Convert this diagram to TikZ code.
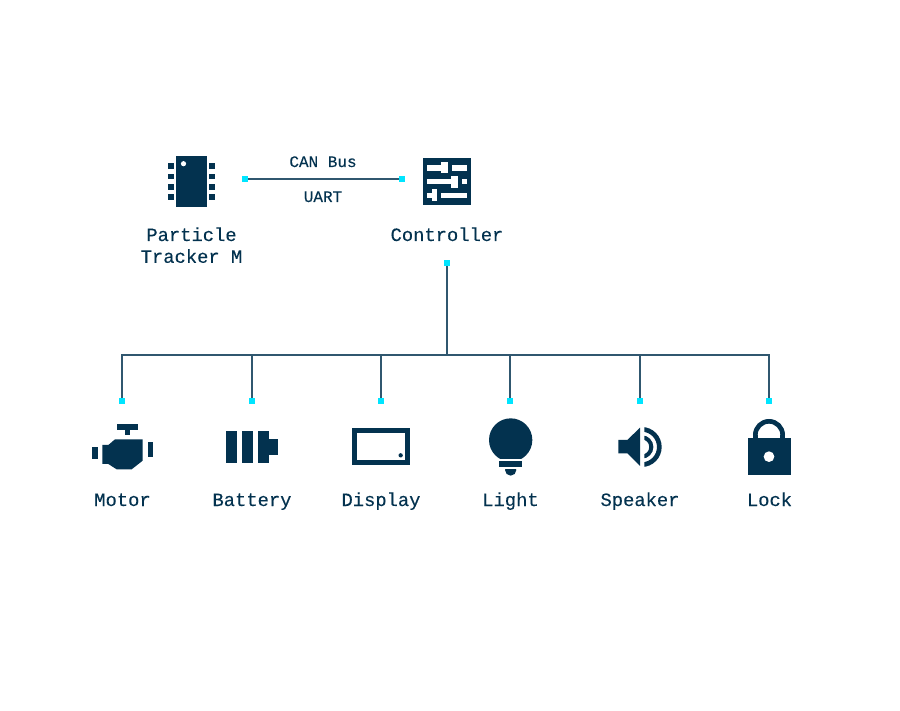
\documentclass[tikz,border=0pt]{standalone}
\usepackage{fontspec}
\setmainfont{Liberation Mono}
\newfontfamily\lblfont[FakeBold=0.15]{Liberation Mono}
\definecolor{navy}{HTML}{03324F}
\definecolor{port}{HTML}{00E5FF}
\tikzset{
  portbox/.style={fill=port,draw=none,minimum size=6pt,inner sep=0pt,outer sep=0pt,rectangle},
  wire/.style={draw=navy!82!white,line width=1.5pt},
  biglabel/.style={text=navy,font=\lblfont\fontsize{18.8pt}{22pt}\selectfont,inner sep=0pt,anchor=base},
  smalllabel/.style={text=navy,font=\lblfont\fontsize{16pt}{19pt}\selectfont,inner sep=0pt,anchor=base},
  zoomed/.style={shift={(#1,390)},scale=1/3}
}
\begin{document}
\begin{tikzpicture}[x=1pt,y=-1pt]
\useasboundingbox[fill=white] (0,0) rectangle (900,711);

% ports
\node[portbox] (canL) at (245,179) {};
\node[portbox] (canR) at (401.5,179) {};
\node[portbox] (ctrl) at (447,263) {};
\node[portbox] (pMotor) at (122,401) {};
\node[portbox] (pBattery) at (252,401) {};
\node[portbox] (pDisplay) at (381,401) {};
\node[portbox] (pLight) at (510,401) {};
\node[portbox] (pSpeaker) at (640,401) {};
\node[portbox] (pLock) at (769,401) {};
\coordinate (hub) at (447,355);

% connectors
\draw[wire] (canL.center) -- (canR.center);
\draw[wire] (ctrl.center) -- (hub);
\foreach \p in {pMotor,pBattery,pDisplay,pLight,pSpeaker,pLock}
  \draw[wire] (\p.center) |- (hub);
\foreach \p in {canL,canR,ctrl,pMotor,pBattery,pDisplay,pLight,pSpeaker,pLock}
  \node[portbox] at (\p.center) {};

% labels
\node[smalllabel] (lCan) at (323,167) {CAN Bus};
\node[smalllabel] (lUart) at (323,202) {UART};
\node[biglabel] (lP1) at (191.5,241) {Particle};
\node[biglabel] (lP2) at (191.5,262.8) {Tracker M};
\node[biglabel] (lCtl) at (447,241) {Controller};
\node[biglabel] (lMotor) at (122.5,506) {Motor};
\node[biglabel] (lBattery) at (252,506) {Battery};
\node[biglabel] (lDisplay) at (381,506) {Display};
\node[biglabel] (lLight) at (510.5,506) {Light};
\node[biglabel] (lSpeaker) at (640,506) {Speaker};
\node[biglabel] (lLock) at (769.5,506) {Lock};

% chip
\fill[navy] (175.7,155.7) rectangle (206.7,207.3);
\foreach \yy in {166.2,176.6,187,197.2}{
  \fill[navy] (168,\yy-2.7) rectangle (173.6,\yy+2.7);
  \fill[navy] (209.2,\yy-2.7) rectangle (214.8,\yy+2.7);
}
\fill[white] (183.5,163.7) circle[radius=2.6];

% controller
\fill[navy] (423.3,158) rectangle (471,205.3);
\begin{scope}[white]
\fill (427.3,165.3) rectangle (448.3,170.7);
\fill (440.7,161.7) rectangle (448.3,173.3);
\fill (452,165.3) rectangle (467.3,170.7);
\fill (427.3,179.3) rectangle (458.3,184.3);
\fill (450.7,175.7) rectangle (458.3,187.7);
\fill (461.7,179.3) rectangle (467.3,184.3);
\fill (427.3,193.3) rectangle (436.7,198.3);
\fill (431.7,189) rectangle (436.7,201.3);
\fill (440.7,193.3) rectangle (467.3,198.3);
\end{scope}

% motor
\begin{scope}[zoomed=80]
\fill[navy] (112,103) rectangle (173,119);
\fill[navy] (135,119) rectangle (151,134);
\fill[navy] (105,148) -- (188,148) -- (188,212) -- (155,238) -- (110,238) -- (85,222) -- (67,222) -- (67,165) -- (85,165) -- cycle;
\fill[navy] (37,171) rectangle (53,208);
\fill[navy] (203,155) rectangle (218,201);
% battery
\fill[navy] (438,124) rectangle (471,218);
\fill[navy] (486,124) rectangle (519,218);
\fill[navy] (534,124) rectangle (566,218);
\fill[navy] (566,147) rectangle (593,195);
\end{scope}

% display
\begin{scope}[zoomed=330]
\fill[navy] (67,115) rectangle (240,226);
\fill[white] (82,130) rectangle (226,211);
\fill[navy] (212,196) circle[radius=6.5];
% light
\begin{scope}
\clip (470,80) rectangle (615,207);
\fill[navy] (542,150) circle[radius=65];
\end{scope}
\fill[navy] (507,214) rectangle (577,232);
\begin{scope}
\clip (520,240) rectangle (565,262);
\fill[navy] (542,240) circle[radius=17];
\end{scope}
\end{scope}

% speaker
\begin{scope}[zoomed=590]
\fill[navy] (85,150) -- (112,150) -- (150,113) -- (150,228) -- (112,190) -- (85,190) -- cycle;
\begin{scope}
\clip (163,100) rectangle (225,240);
\draw[navy,line width=4.67pt] (155,171) circle[radius=53];
\draw[navy,line width=4pt] (155,171) circle[radius=29];
\end{scope}
% lock
\fill[navy] (473,143) rectangle (602,256);
\begin{scope}
\clip (480,80) rectangle (595,135);
\draw[navy,line width=4.67pt] (537,135) circle[radius=41];
\end{scope}
\draw[navy,line width=4.67pt] (496,135) -- (496,145);
\draw[navy,line width=4.67pt] (578,135) -- (578,145);
\fill[white] (537,200) circle[radius=16];
\end{scope}
\end{tikzpicture}
\end{document}
